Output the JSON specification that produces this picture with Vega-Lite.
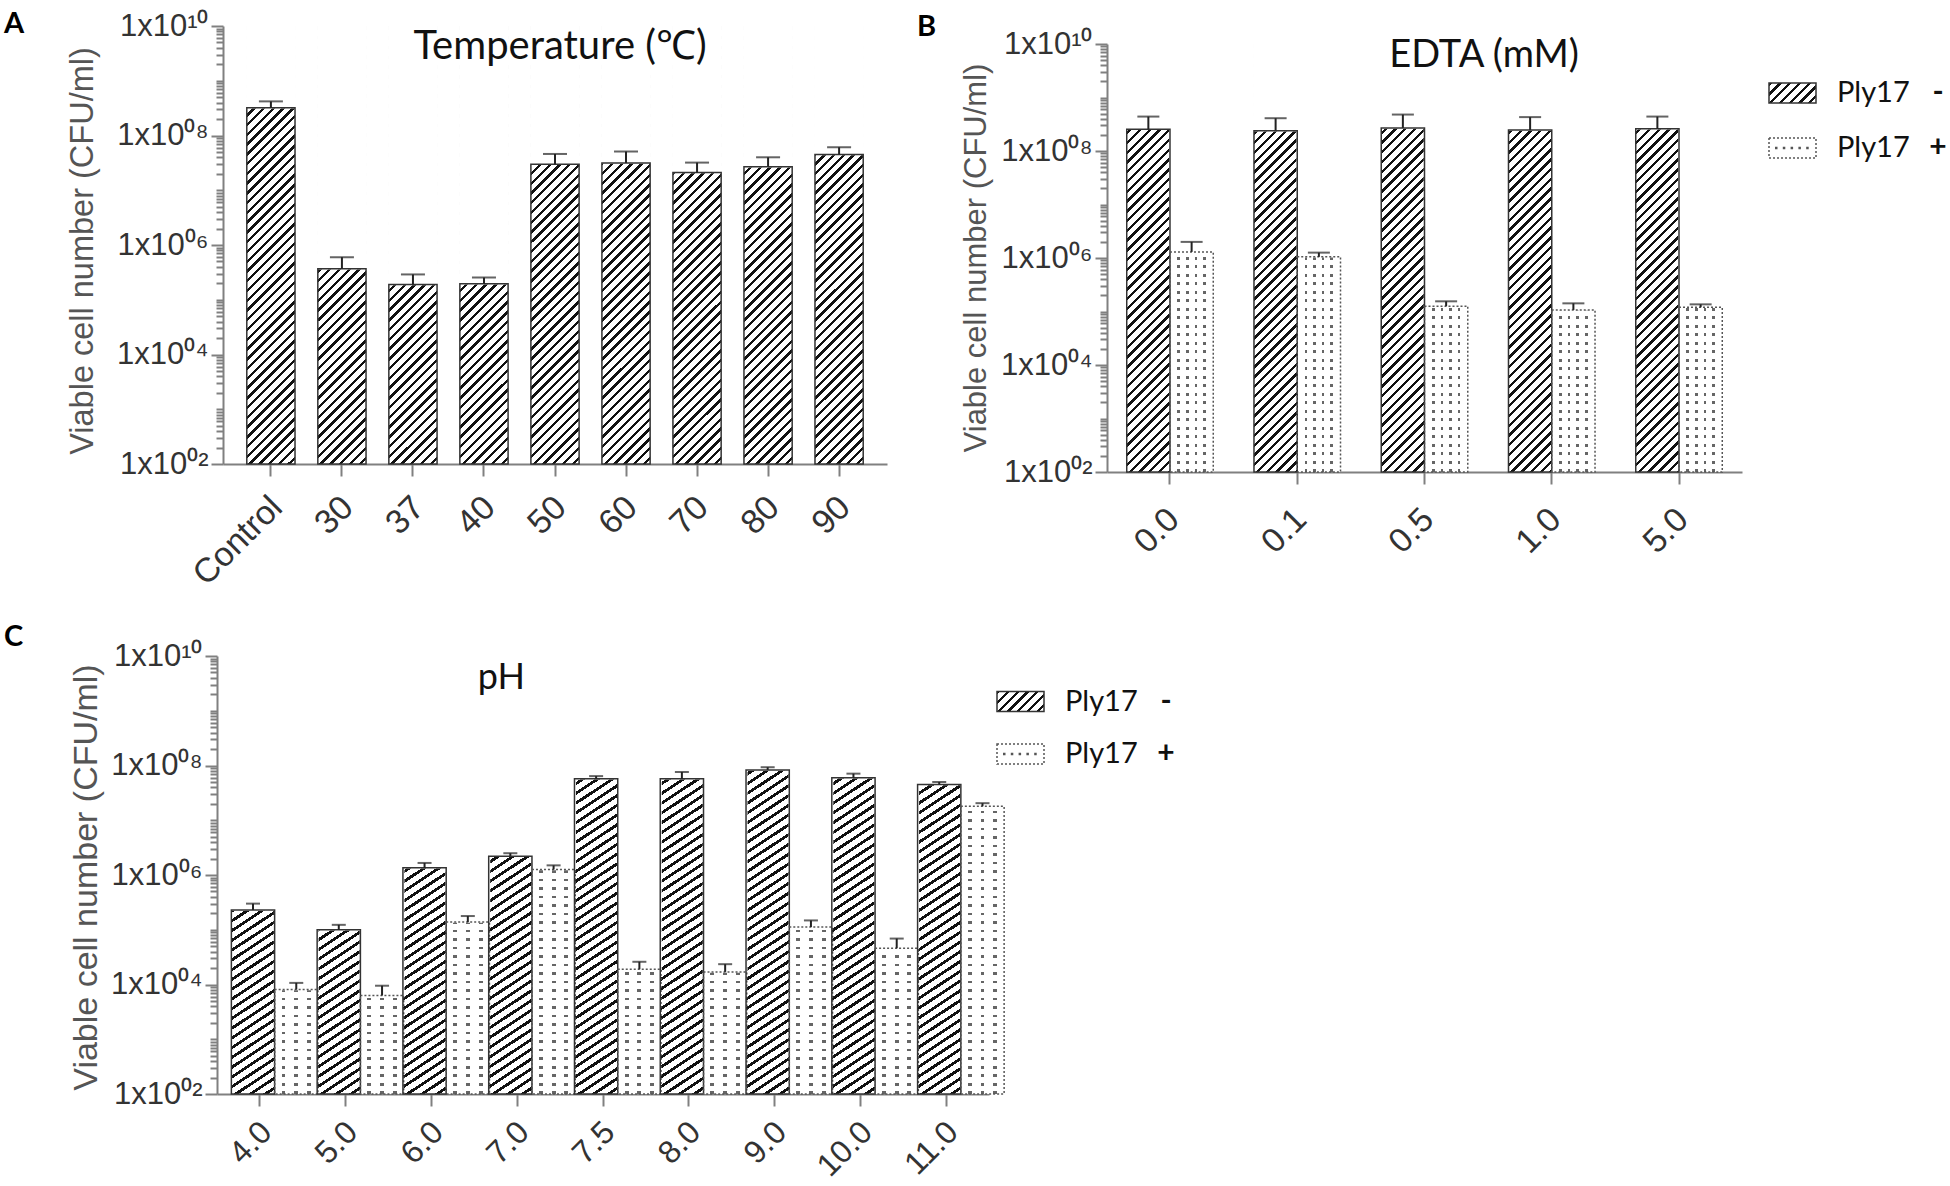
{
  "$schema": "https://vega.github.io/schema/vega-lite/v6.json",
  "background": "#ffffff",
  "padding": {"left": 4, "top": 10, "right": 0, "bottom": 0},
  "params": [
    {"name": "hatchStops", "value": [
      {"offset":0,"color":"#111"},{"offset":0.007,"color":"#111"},{"offset":0.007,"color":"#fff"},{"offset":0.02,"color":"#fff"},
      {"offset":0.02,"color":"#111"},{"offset":0.027,"color":"#111"},{"offset":0.027,"color":"#fff"},{"offset":0.04,"color":"#fff"},
      {"offset":0.04,"color":"#111"},{"offset":0.047,"color":"#111"},{"offset":0.047,"color":"#fff"},{"offset":0.06,"color":"#fff"},
      {"offset":0.06,"color":"#111"},{"offset":0.067,"color":"#111"},{"offset":0.067,"color":"#fff"},{"offset":0.08,"color":"#fff"},
      {"offset":0.08,"color":"#111"},{"offset":0.087,"color":"#111"},{"offset":0.087,"color":"#fff"},{"offset":0.1,"color":"#fff"},
      {"offset":0.1,"color":"#111"},{"offset":0.107,"color":"#111"},{"offset":0.107,"color":"#fff"},{"offset":0.12,"color":"#fff"},
      {"offset":0.12,"color":"#111"},{"offset":0.127,"color":"#111"},{"offset":0.127,"color":"#fff"},{"offset":0.14,"color":"#fff"},
      {"offset":0.14,"color":"#111"},{"offset":0.147,"color":"#111"},{"offset":0.147,"color":"#fff"},{"offset":0.16,"color":"#fff"},
      {"offset":0.16,"color":"#111"},{"offset":0.167,"color":"#111"},{"offset":0.167,"color":"#fff"},{"offset":0.18,"color":"#fff"},
      {"offset":0.18,"color":"#111"},{"offset":0.187,"color":"#111"},{"offset":0.187,"color":"#fff"},{"offset":0.2,"color":"#fff"},
      {"offset":0.2,"color":"#111"},{"offset":0.207,"color":"#111"},{"offset":0.207,"color":"#fff"},{"offset":0.22,"color":"#fff"},
      {"offset":0.22,"color":"#111"},{"offset":0.227,"color":"#111"},{"offset":0.227,"color":"#fff"},{"offset":0.24,"color":"#fff"},
      {"offset":0.24,"color":"#111"},{"offset":0.247,"color":"#111"},{"offset":0.247,"color":"#fff"},{"offset":0.26,"color":"#fff"},
      {"offset":0.26,"color":"#111"},{"offset":0.267,"color":"#111"},{"offset":0.267,"color":"#fff"},{"offset":0.28,"color":"#fff"},
      {"offset":0.28,"color":"#111"},{"offset":0.287,"color":"#111"},{"offset":0.287,"color":"#fff"},{"offset":0.3,"color":"#fff"},
      {"offset":0.3,"color":"#111"},{"offset":0.307,"color":"#111"},{"offset":0.307,"color":"#fff"},{"offset":0.32,"color":"#fff"},
      {"offset":0.32,"color":"#111"},{"offset":0.327,"color":"#111"},{"offset":0.327,"color":"#fff"},{"offset":0.34,"color":"#fff"},
      {"offset":0.34,"color":"#111"},{"offset":0.347,"color":"#111"},{"offset":0.347,"color":"#fff"},{"offset":0.36,"color":"#fff"},
      {"offset":0.36,"color":"#111"},{"offset":0.367,"color":"#111"},{"offset":0.367,"color":"#fff"},{"offset":0.38,"color":"#fff"},
      {"offset":0.38,"color":"#111"},{"offset":0.387,"color":"#111"},{"offset":0.387,"color":"#fff"},{"offset":0.4,"color":"#fff"},
      {"offset":0.4,"color":"#111"},{"offset":0.407,"color":"#111"},{"offset":0.407,"color":"#fff"},{"offset":0.42,"color":"#fff"},
      {"offset":0.42,"color":"#111"},{"offset":0.427,"color":"#111"},{"offset":0.427,"color":"#fff"},{"offset":0.44,"color":"#fff"},
      {"offset":0.44,"color":"#111"},{"offset":0.447,"color":"#111"},{"offset":0.447,"color":"#fff"},{"offset":0.46,"color":"#fff"},
      {"offset":0.46,"color":"#111"},{"offset":0.467,"color":"#111"},{"offset":0.467,"color":"#fff"},{"offset":0.48,"color":"#fff"},
      {"offset":0.48,"color":"#111"},{"offset":0.487,"color":"#111"},{"offset":0.487,"color":"#fff"},{"offset":0.5,"color":"#fff"},
      {"offset":0.5,"color":"#111"},{"offset":0.507,"color":"#111"},{"offset":0.507,"color":"#fff"},{"offset":0.52,"color":"#fff"},
      {"offset":0.52,"color":"#111"},{"offset":0.527,"color":"#111"},{"offset":0.527,"color":"#fff"},{"offset":0.54,"color":"#fff"},
      {"offset":0.54,"color":"#111"},{"offset":0.547,"color":"#111"},{"offset":0.547,"color":"#fff"},{"offset":0.56,"color":"#fff"},
      {"offset":0.56,"color":"#111"},{"offset":0.567,"color":"#111"},{"offset":0.567,"color":"#fff"},{"offset":0.58,"color":"#fff"},
      {"offset":0.58,"color":"#111"},{"offset":0.587,"color":"#111"},{"offset":0.587,"color":"#fff"},{"offset":0.6,"color":"#fff"},
      {"offset":0.6,"color":"#111"},{"offset":0.607,"color":"#111"},{"offset":0.607,"color":"#fff"},{"offset":0.62,"color":"#fff"},
      {"offset":0.62,"color":"#111"},{"offset":0.627,"color":"#111"},{"offset":0.627,"color":"#fff"},{"offset":0.64,"color":"#fff"},
      {"offset":0.64,"color":"#111"},{"offset":0.647,"color":"#111"},{"offset":0.647,"color":"#fff"},{"offset":0.66,"color":"#fff"},
      {"offset":0.66,"color":"#111"},{"offset":0.667,"color":"#111"},{"offset":0.667,"color":"#fff"},{"offset":0.68,"color":"#fff"},
      {"offset":0.68,"color":"#111"},{"offset":0.687,"color":"#111"},{"offset":0.687,"color":"#fff"},{"offset":0.7,"color":"#fff"},
      {"offset":0.7,"color":"#111"},{"offset":0.707,"color":"#111"},{"offset":0.707,"color":"#fff"},{"offset":0.72,"color":"#fff"},
      {"offset":0.72,"color":"#111"},{"offset":0.727,"color":"#111"},{"offset":0.727,"color":"#fff"},{"offset":0.74,"color":"#fff"},
      {"offset":0.74,"color":"#111"},{"offset":0.747,"color":"#111"},{"offset":0.747,"color":"#fff"},{"offset":0.76,"color":"#fff"},
      {"offset":0.76,"color":"#111"},{"offset":0.767,"color":"#111"},{"offset":0.767,"color":"#fff"},{"offset":0.78,"color":"#fff"},
      {"offset":0.78,"color":"#111"},{"offset":0.787,"color":"#111"},{"offset":0.787,"color":"#fff"},{"offset":0.8,"color":"#fff"},
      {"offset":0.8,"color":"#111"},{"offset":0.807,"color":"#111"},{"offset":0.807,"color":"#fff"},{"offset":0.82,"color":"#fff"},
      {"offset":0.82,"color":"#111"},{"offset":0.827,"color":"#111"},{"offset":0.827,"color":"#fff"},{"offset":0.84,"color":"#fff"},
      {"offset":0.84,"color":"#111"},{"offset":0.847,"color":"#111"},{"offset":0.847,"color":"#fff"},{"offset":0.86,"color":"#fff"},
      {"offset":0.86,"color":"#111"},{"offset":0.867,"color":"#111"},{"offset":0.867,"color":"#fff"},{"offset":0.88,"color":"#fff"},
      {"offset":0.88,"color":"#111"},{"offset":0.887,"color":"#111"},{"offset":0.887,"color":"#fff"},{"offset":0.9,"color":"#fff"},
      {"offset":0.9,"color":"#111"},{"offset":0.907,"color":"#111"},{"offset":0.907,"color":"#fff"},{"offset":0.92,"color":"#fff"},
      {"offset":0.92,"color":"#111"},{"offset":0.927,"color":"#111"},{"offset":0.927,"color":"#fff"},{"offset":0.94,"color":"#fff"},
      {"offset":0.94,"color":"#111"},{"offset":0.947,"color":"#111"},{"offset":0.947,"color":"#fff"},{"offset":0.96,"color":"#fff"},
      {"offset":0.96,"color":"#111"},{"offset":0.967,"color":"#111"},{"offset":0.967,"color":"#fff"},{"offset":0.98,"color":"#fff"},
      {"offset":0.98,"color":"#111"},{"offset":0.987,"color":"#111"},{"offset":0.987,"color":"#fff"},{"offset":1,"color":"#fff"}
    ]},
    {"name": "dotRowStops", "value": [
      {"offset":0,"color":"rgba(255,255,255,0)"},{"offset":0.0061,"color":"rgba(255,255,255,0)"},{"offset":0.0061,"color":"#fff"},{"offset":0.02,"color":"#fff"},
      {"offset":0.02,"color":"rgba(255,255,255,0)"},{"offset":0.0261,"color":"rgba(255,255,255,0)"},{"offset":0.0261,"color":"#fff"},{"offset":0.04,"color":"#fff"},
      {"offset":0.04,"color":"rgba(255,255,255,0)"},{"offset":0.0461,"color":"rgba(255,255,255,0)"},{"offset":0.0461,"color":"#fff"},{"offset":0.06,"color":"#fff"},
      {"offset":0.06,"color":"rgba(255,255,255,0)"},{"offset":0.0661,"color":"rgba(255,255,255,0)"},{"offset":0.0661,"color":"#fff"},{"offset":0.08,"color":"#fff"},
      {"offset":0.08,"color":"rgba(255,255,255,0)"},{"offset":0.0861,"color":"rgba(255,255,255,0)"},{"offset":0.0861,"color":"#fff"},{"offset":0.1,"color":"#fff"},
      {"offset":0.1,"color":"rgba(255,255,255,0)"},{"offset":0.1061,"color":"rgba(255,255,255,0)"},{"offset":0.1061,"color":"#fff"},{"offset":0.12,"color":"#fff"},
      {"offset":0.12,"color":"rgba(255,255,255,0)"},{"offset":0.1261,"color":"rgba(255,255,255,0)"},{"offset":0.1261,"color":"#fff"},{"offset":0.14,"color":"#fff"},
      {"offset":0.14,"color":"rgba(255,255,255,0)"},{"offset":0.1461,"color":"rgba(255,255,255,0)"},{"offset":0.1461,"color":"#fff"},{"offset":0.16,"color":"#fff"},
      {"offset":0.16,"color":"rgba(255,255,255,0)"},{"offset":0.1661,"color":"rgba(255,255,255,0)"},{"offset":0.1661,"color":"#fff"},{"offset":0.18,"color":"#fff"},
      {"offset":0.18,"color":"rgba(255,255,255,0)"},{"offset":0.1861,"color":"rgba(255,255,255,0)"},{"offset":0.1861,"color":"#fff"},{"offset":0.2,"color":"#fff"},
      {"offset":0.2,"color":"rgba(255,255,255,0)"},{"offset":0.2061,"color":"rgba(255,255,255,0)"},{"offset":0.2061,"color":"#fff"},{"offset":0.22,"color":"#fff"},
      {"offset":0.22,"color":"rgba(255,255,255,0)"},{"offset":0.2261,"color":"rgba(255,255,255,0)"},{"offset":0.2261,"color":"#fff"},{"offset":0.24,"color":"#fff"},
      {"offset":0.24,"color":"rgba(255,255,255,0)"},{"offset":0.2461,"color":"rgba(255,255,255,0)"},{"offset":0.2461,"color":"#fff"},{"offset":0.26,"color":"#fff"},
      {"offset":0.26,"color":"rgba(255,255,255,0)"},{"offset":0.2661,"color":"rgba(255,255,255,0)"},{"offset":0.2661,"color":"#fff"},{"offset":0.28,"color":"#fff"},
      {"offset":0.28,"color":"rgba(255,255,255,0)"},{"offset":0.2861,"color":"rgba(255,255,255,0)"},{"offset":0.2861,"color":"#fff"},{"offset":0.3,"color":"#fff"},
      {"offset":0.3,"color":"rgba(255,255,255,0)"},{"offset":0.3061,"color":"rgba(255,255,255,0)"},{"offset":0.3061,"color":"#fff"},{"offset":0.32,"color":"#fff"},
      {"offset":0.32,"color":"rgba(255,255,255,0)"},{"offset":0.3261,"color":"rgba(255,255,255,0)"},{"offset":0.3261,"color":"#fff"},{"offset":0.34,"color":"#fff"},
      {"offset":0.34,"color":"rgba(255,255,255,0)"},{"offset":0.3461,"color":"rgba(255,255,255,0)"},{"offset":0.3461,"color":"#fff"},{"offset":0.36,"color":"#fff"},
      {"offset":0.36,"color":"rgba(255,255,255,0)"},{"offset":0.3661,"color":"rgba(255,255,255,0)"},{"offset":0.3661,"color":"#fff"},{"offset":0.38,"color":"#fff"},
      {"offset":0.38,"color":"rgba(255,255,255,0)"},{"offset":0.3861,"color":"rgba(255,255,255,0)"},{"offset":0.3861,"color":"#fff"},{"offset":0.4,"color":"#fff"},
      {"offset":0.4,"color":"rgba(255,255,255,0)"},{"offset":0.4061,"color":"rgba(255,255,255,0)"},{"offset":0.4061,"color":"#fff"},{"offset":0.42,"color":"#fff"},
      {"offset":0.42,"color":"rgba(255,255,255,0)"},{"offset":0.4261,"color":"rgba(255,255,255,0)"},{"offset":0.4261,"color":"#fff"},{"offset":0.44,"color":"#fff"},
      {"offset":0.44,"color":"rgba(255,255,255,0)"},{"offset":0.4461,"color":"rgba(255,255,255,0)"},{"offset":0.4461,"color":"#fff"},{"offset":0.46,"color":"#fff"},
      {"offset":0.46,"color":"rgba(255,255,255,0)"},{"offset":0.4661,"color":"rgba(255,255,255,0)"},{"offset":0.4661,"color":"#fff"},{"offset":0.48,"color":"#fff"},
      {"offset":0.48,"color":"rgba(255,255,255,0)"},{"offset":0.4861,"color":"rgba(255,255,255,0)"},{"offset":0.4861,"color":"#fff"},{"offset":0.5,"color":"#fff"},
      {"offset":0.5,"color":"rgba(255,255,255,0)"},{"offset":0.5061,"color":"rgba(255,255,255,0)"},{"offset":0.5061,"color":"#fff"},{"offset":0.52,"color":"#fff"},
      {"offset":0.52,"color":"rgba(255,255,255,0)"},{"offset":0.5261,"color":"rgba(255,255,255,0)"},{"offset":0.5261,"color":"#fff"},{"offset":0.54,"color":"#fff"},
      {"offset":0.54,"color":"rgba(255,255,255,0)"},{"offset":0.5461,"color":"rgba(255,255,255,0)"},{"offset":0.5461,"color":"#fff"},{"offset":0.56,"color":"#fff"},
      {"offset":0.56,"color":"rgba(255,255,255,0)"},{"offset":0.5661,"color":"rgba(255,255,255,0)"},{"offset":0.5661,"color":"#fff"},{"offset":0.58,"color":"#fff"},
      {"offset":0.58,"color":"rgba(255,255,255,0)"},{"offset":0.5861,"color":"rgba(255,255,255,0)"},{"offset":0.5861,"color":"#fff"},{"offset":0.6,"color":"#fff"},
      {"offset":0.6,"color":"rgba(255,255,255,0)"},{"offset":0.6061,"color":"rgba(255,255,255,0)"},{"offset":0.6061,"color":"#fff"},{"offset":0.62,"color":"#fff"},
      {"offset":0.62,"color":"rgba(255,255,255,0)"},{"offset":0.6261,"color":"rgba(255,255,255,0)"},{"offset":0.6261,"color":"#fff"},{"offset":0.64,"color":"#fff"},
      {"offset":0.64,"color":"rgba(255,255,255,0)"},{"offset":0.6461,"color":"rgba(255,255,255,0)"},{"offset":0.6461,"color":"#fff"},{"offset":0.66,"color":"#fff"},
      {"offset":0.66,"color":"rgba(255,255,255,0)"},{"offset":0.6661,"color":"rgba(255,255,255,0)"},{"offset":0.6661,"color":"#fff"},{"offset":0.68,"color":"#fff"},
      {"offset":0.68,"color":"rgba(255,255,255,0)"},{"offset":0.6861,"color":"rgba(255,255,255,0)"},{"offset":0.6861,"color":"#fff"},{"offset":0.7,"color":"#fff"},
      {"offset":0.7,"color":"rgba(255,255,255,0)"},{"offset":0.7061,"color":"rgba(255,255,255,0)"},{"offset":0.7061,"color":"#fff"},{"offset":0.72,"color":"#fff"},
      {"offset":0.72,"color":"rgba(255,255,255,0)"},{"offset":0.7261,"color":"rgba(255,255,255,0)"},{"offset":0.7261,"color":"#fff"},{"offset":0.74,"color":"#fff"},
      {"offset":0.74,"color":"rgba(255,255,255,0)"},{"offset":0.7461,"color":"rgba(255,255,255,0)"},{"offset":0.7461,"color":"#fff"},{"offset":0.76,"color":"#fff"},
      {"offset":0.76,"color":"rgba(255,255,255,0)"},{"offset":0.7661,"color":"rgba(255,255,255,0)"},{"offset":0.7661,"color":"#fff"},{"offset":0.78,"color":"#fff"},
      {"offset":0.78,"color":"rgba(255,255,255,0)"},{"offset":0.7861,"color":"rgba(255,255,255,0)"},{"offset":0.7861,"color":"#fff"},{"offset":0.8,"color":"#fff"},
      {"offset":0.8,"color":"rgba(255,255,255,0)"},{"offset":0.8061,"color":"rgba(255,255,255,0)"},{"offset":0.8061,"color":"#fff"},{"offset":0.82,"color":"#fff"},
      {"offset":0.82,"color":"rgba(255,255,255,0)"},{"offset":0.8261,"color":"rgba(255,255,255,0)"},{"offset":0.8261,"color":"#fff"},{"offset":0.84,"color":"#fff"},
      {"offset":0.84,"color":"rgba(255,255,255,0)"},{"offset":0.8461,"color":"rgba(255,255,255,0)"},{"offset":0.8461,"color":"#fff"},{"offset":0.86,"color":"#fff"},
      {"offset":0.86,"color":"rgba(255,255,255,0)"},{"offset":0.8661,"color":"rgba(255,255,255,0)"},{"offset":0.8661,"color":"#fff"},{"offset":0.88,"color":"#fff"},
      {"offset":0.88,"color":"rgba(255,255,255,0)"},{"offset":0.8861,"color":"rgba(255,255,255,0)"},{"offset":0.8861,"color":"#fff"},{"offset":0.9,"color":"#fff"},
      {"offset":0.9,"color":"rgba(255,255,255,0)"},{"offset":0.9061,"color":"rgba(255,255,255,0)"},{"offset":0.9061,"color":"#fff"},{"offset":0.92,"color":"#fff"},
      {"offset":0.92,"color":"rgba(255,255,255,0)"},{"offset":0.9261,"color":"rgba(255,255,255,0)"},{"offset":0.9261,"color":"#fff"},{"offset":0.94,"color":"#fff"},
      {"offset":0.94,"color":"rgba(255,255,255,0)"},{"offset":0.9461,"color":"rgba(255,255,255,0)"},{"offset":0.9461,"color":"#fff"},{"offset":0.96,"color":"#fff"},
      {"offset":0.96,"color":"rgba(255,255,255,0)"},{"offset":0.9661,"color":"rgba(255,255,255,0)"},{"offset":0.9661,"color":"#fff"},{"offset":0.98,"color":"#fff"},
      {"offset":0.98,"color":"rgba(255,255,255,0)"},{"offset":0.9861,"color":"rgba(255,255,255,0)"},{"offset":0.9861,"color":"#fff"},{"offset":1,"color":"#fff"}
    ]},
    {"name": "dotColsB", "value": {"gradient": "linear", "x1": 0, "y1": 0, "x2": 1, "y2": 0, "stops": [
      {"offset":0,"color":"#fff"},{"offset":0.1722,"color":"#fff"},{"offset":0.1722,"color":"#666"},{"offset":0.2323,"color":"#666"},
      {"offset":0.2323,"color":"#fff"},{"offset":0.3709,"color":"#fff"},{"offset":0.3709,"color":"#666"},{"offset":0.431,"color":"#666"},
      {"offset":0.431,"color":"#fff"},{"offset":0.5697,"color":"#fff"},{"offset":0.5697,"color":"#666"},{"offset":0.6298,"color":"#666"},
      {"offset":0.6298,"color":"#fff"},{"offset":0.7684,"color":"#fff"},{"offset":0.7684,"color":"#666"},{"offset":0.8285,"color":"#666"},
      {"offset":0.8285,"color":"#fff"},{"offset":1,"color":"#fff"}
    ]}},
    {"name": "dotColsC", "value": {"gradient": "linear", "x1": 0, "y1": 0, "x2": 1, "y2": 0, "stops": [
      {"offset":0,"color":"#fff"},{"offset":0.1599,"color":"#fff"},{"offset":0.1599,"color":"#666"},{"offset":0.2511,"color":"#666"},
      {"offset":0.2511,"color":"#fff"},{"offset":0.4544,"color":"#fff"},{"offset":0.4544,"color":"#666"},{"offset":0.5456,"color":"#666"},
      {"offset":0.5456,"color":"#fff"},{"offset":0.7489,"color":"#fff"},{"offset":0.7489,"color":"#666"},{"offset":0.8401,"color":"#666"},
      {"offset":0.8401,"color":"#fff"},{"offset":1,"color":"#fff"}
    ]}},
    {"name": "hatchA", "expr": "{gradient: 'linear', x1: 0, y1: 0, x2: 0.12113, y2: 1.1007, stops: hatchStops}"},
    {"name": "hatchB", "expr": "{gradient: 'linear', x1: 0, y1: 0, x2: 0.11408, y2: 1.1284, stops: hatchStops}"},
    {"name": "hatchC", "expr": "{gradient: 'linear', x1: 0, y1: 0, x2: 0.07223, y2: 1.1093, stops: hatchStops}"},
    {"name": "hatchLeg", "expr": "{gradient: 'linear', x1: 0, y1: 0, x2: 8.789, y2: 3.74, stops: hatchStops}"},
    {"name": "dotRowsB", "expr": "{gradient: 'linear', x1: 0, y1: 1, x2: 0, y2: 0.00701, stops: dotRowStops}"},
    {"name": "dotRowsC", "expr": "{gradient: 'linear', x1: 0, y1: 1, x2: 0, y2: 0.02968, stops: dotRowStops}"}
  ],
  "bounds": "flush",
  "spacing": 630,
  "vconcat": [
    {
      "bounds": "flush",
      "spacing": 220,
      "hconcat": [
        {
          "width": 664,
          "height": 438,
          "title": {"text": "A", "dx": -219, "offset": -29},
          "data": {"values": [
            {"group": "Control", "mean": 3.2e8, "upper": 4.2e8},
            {"group": "30", "mean": 3.7e5, "upper": 6.0e5},
            {"group": "37", "mean": 1.9e5, "upper": 2.9e5},
            {"group": "40", "mean": 1.95e5, "upper": 2.55e5},
            {"group": "50", "mean": 3.0e7, "upper": 4.6e7},
            {"group": "60", "mean": 3.15e7, "upper": 5.1e7},
            {"group": "70", "mean": 2.1e7, "upper": 3.2e7},
            {"group": "80", "mean": 2.7e7, "upper": 4.0e7},
            {"group": "90", "mean": 4.5e7, "upper": 6.1e7}
          ]},
          "encoding": {
            "x": {
              "field": "group", "type": "nominal", "sort": null,
              "scale": {"domain": ["Control", "30", "37", "40", "50", "60", "70", "80", "90"], "paddingInner": 0.321, "paddingOuter": 0.335},
              "axis": {"title": null, "labelAngle": -45, "labelAlign": "right", "labelBaseline": "top", "labelPadding": 14, "labelOffset": -6, "tickSize": 12}
            }
          },
          "layer": [
            {
              "mark": {"type": "bar", "fill": {"expr": "hatchA"}},
              "encoding": {
                "y": {
                  "datum": 1e10, "type": "quantitative",
                  "scale": {"type": "log", "domain": [100, 1e10], "nice": false},
                  "axis": {
                    "title": "Viable cell number (CFU/ml)", "titleFontSize": 32.5, "titleX": -141, "titleY": 224.5,
                    "titleAngle": -90, "titleAlign": "center", "titleBaseline": "middle",
                    "values": [100,200,300,400,500,600,700,800,900,1000,2000,3000,4000,5000,6000,7000,8000,9000,10000,20000,30000,40000,50000,60000,70000,80000,90000,1e5,2e5,3e5,4e5,5e5,6e5,7e5,8e5,9e5,1e6,2e6,3e6,4e6,5e6,6e6,7e6,8e6,9e6,1e7,2e7,3e7,4e7,5e7,6e7,7e7,8e7,9e7,1e8,2e8,3e8,4e8,5e8,6e8,7e8,8e8,9e8,1e9,2e9,3e9,4e9,5e9,6e9,7e9,8e9,9e9,1e10],
                    "labelExpr": "datum.value == 1e10 ? '1x10¹⁰' : datum.value == 1e8 ? '1x10⁰⁸' : datum.value == 1e6 ? '1x10⁰⁶' : datum.value == 1e4 ? '1x10⁰⁴' : datum.value == 100 ? '1x10⁰²' : ''",
                    "labelPadding": 3,
                    "tickSize": {"condition": {"test": "datum.value == 100 || datum.value == 1e4 || datum.value == 1e6 || datum.value == 1e8 || datum.value == 1e10", "value": 12}, "value": 7}
                  }
                },
                "y2": {"datum": 100}
              }
            },
            {
              "mark": {"type": "bar", "fill": "#fff", "stroke": "#fff", "strokeWidth": 1.5},
              "encoding": {"y": {"field": "mean", "type": "quantitative"}, "y2": {"datum": 1e10}}
            },
            {
              "mark": {"type": "bar", "fill": "transparent", "stroke": "#333", "strokeWidth": 1.5},
              "encoding": {"y": {"field": "mean", "type": "quantitative"}, "y2": {"datum": 100}}
            },
            {
              "mark": {"type": "rule", "color": "#222", "strokeWidth": 2},
              "encoding": {"y": {"field": "mean", "type": "quantitative"}, "y2": {"field": "upper"}}
            },
            {
              "mark": {"type": "tick", "color": "#222", "thickness": 2, "size": 24},
              "encoding": {"y": {"field": "upper", "type": "quantitative"}}
            },
            {
              "data": {"values": [{"t": "Temperature  (℃)"}]},
              "mark": {"type": "text", "font": "Lato", "fontSize": 40, "color": "#111", "baseline": "middle", "dx": 5},
              "encoding": {"x": {"datum": "50"}, "y": {"datum": 4.1e9, "type": "quantitative"}, "text": {"field": "t"}}
            }
          ]
        },
        {
          "bounds": "flush",
          "spacing": 27,
          "hconcat": [
            {
              "width": 635,
              "height": 446,
              "title": {"text": "B", "dx": -190, "offset": -16},
              "data": {"values": [
                {"group": "0.0", "series": "Ply17 -", "mean": 2.55e8, "upper": 4.4e8},
                {"group": "0.0", "series": "Ply17 +", "mean": 1.3e6, "upper": 2.0e6},
                {"group": "0.1", "series": "Ply17 -", "mean": 2.4e8, "upper": 4.1e8},
                {"group": "0.1", "series": "Ply17 +", "mean": 1.05e6, "upper": 1.26e6},
                {"group": "0.5", "series": "Ply17 -", "mean": 2.7e8, "upper": 4.8e8},
                {"group": "0.5", "series": "Ply17 +", "mean": 1.26e5, "upper": 1.55e5},
                {"group": "1.0", "series": "Ply17 -", "mean": 2.46e8, "upper": 4.3e8},
                {"group": "1.0", "series": "Ply17 +", "mean": 1.07e5, "upper": 1.42e5},
                {"group": "5.0", "series": "Ply17 -", "mean": 2.6e8, "upper": 4.4e8},
                {"group": "5.0", "series": "Ply17 +", "mean": 1.2e5, "upper": 1.36e5}
              ]},
              "encoding": {
                "x": {
                  "field": "group", "type": "nominal", "sort": null,
                  "scale": {"domain": ["0.0", "0.1", "0.5", "1.0", "5.0"], "paddingInner": 0.32, "paddingOuter": 0.155},
                  "axis": {"title": null, "labelAngle": -45, "labelAlign": "right", "labelBaseline": "top", "labelPadding": 18, "labelOffset": -8, "tickSize": 12}
                },
                "xOffset": {"field": "series", "type": "nominal", "sort": null, "scale": {"domain": ["Ply17 -", "Ply17 +"], "paddingInner": 0, "paddingOuter": 0}}
              },
              "layer": [
                {
                  "mark": {"type": "bar", "fill": {"expr": "datum.series == 'Ply17 -' ? hatchB : dotColsB"}},
                  "encoding": {
                    "y": {
                      "datum": 1e10, "type": "quantitative",
                      "scale": {"type": "log", "domain": [100, 1e10], "range": [446, 18], "nice": false},
                      "axis": {
                        "title": "Viable cell number (CFU/ml)", "titleFontSize": 31, "titleX": -131, "titleY": 231.5,
                        "titleAngle": -90, "titleAlign": "center", "titleBaseline": "middle",
                        "values": [100,200,300,400,500,600,700,800,900,1000,2000,3000,4000,5000,6000,7000,8000,9000,10000,20000,30000,40000,50000,60000,70000,80000,90000,1e5,2e5,3e5,4e5,5e5,6e5,7e5,8e5,9e5,1e6,2e6,3e6,4e6,5e6,6e6,7e6,8e6,9e6,1e7,2e7,3e7,4e7,5e7,6e7,7e7,8e7,9e7,1e8,2e8,3e8,4e8,5e8,6e8,7e8,8e8,9e8,1e9,2e9,3e9,4e9,5e9,6e9,7e9,8e9,9e9,1e10],
                        "labelExpr": "datum.value == 1e10 ? '1x10¹⁰' : datum.value == 1e8 ? '1x10⁰⁸' : datum.value == 1e6 ? '1x10⁰⁶' : datum.value == 1e4 ? '1x10⁰⁴' : datum.value == 100 ? '1x10⁰²' : ''",
                        "labelPadding": 3,
                        "tickSize": {"condition": {"test": "datum.value == 100 || datum.value == 1e4 || datum.value == 1e6 || datum.value == 1e8 || datum.value == 1e10", "value": 12}, "value": 7}
                      }
                    },
                    "y2": {"datum": 100}
                  }
                },
                {
                  "transform": [{"filter": "datum.series == 'Ply17 +'"}],
                  "mark": {"type": "bar", "fill": {"expr": "dotRowsB"}},
                  "encoding": {"y": {"datum": 1e10, "type": "quantitative"}, "y2": {"datum": 100}}
                },
                {
                  "mark": {"type": "bar", "fill": "#fff", "stroke": "#fff", "strokeWidth": 1.5},
                  "encoding": {"y": {"field": "mean", "type": "quantitative"}, "y2": {"datum": 1e10}}
                },
                {
                  "mark": {"type": "bar", "fill": "transparent", "strokeWidth": 1.5},
                  "encoding": {
                    "y": {"field": "mean", "type": "quantitative"}, "y2": {"datum": 100},
                    "stroke": {"field": "series", "type": "nominal", "scale": {"domain": ["Ply17 -", "Ply17 +"], "range": ["#333", "#555"]}, "legend": null},
                    "strokeDash": {"field": "series", "type": "nominal", "scale": {"domain": ["Ply17 -", "Ply17 +"], "range": [[1, 0], [2, 2]]}, "legend": null}
                  }
                },
                {
                  "mark": {"type": "rule", "color": "#222", "strokeWidth": 2},
                  "encoding": {"y": {"field": "mean", "type": "quantitative"}, "y2": {"field": "upper"}}
                },
                {
                  "mark": {"type": "tick", "color": "#222", "thickness": 2, "size": 22},
                  "encoding": {"y": {"field": "upper", "type": "quantitative"}}
                },
                {
                  "data": {"values": [{"t": "EDTA (mM)"}]},
                  "mark": {"type": "text", "font": "Lato", "fontSize": 38, "color": "#111", "baseline": "middle", "dx": 38},
                  "encoding": {"x": {"datum": "0.5"}, "xOffset": {"datum": "Ply17 +"}, "y": {"datum": 6e9, "type": "quantitative"}, "text": {"field": "t"}}
                }
              ]
            },
            {
              "width": 175,
              "height": 189,
              "data": {"values": [
                {"series": "Ply17 -", "label": "Ply17", "sign": "-"},
                {"series": "Ply17 +", "label": "Ply17", "sign": "+"}
              ]},
              "encoding": {
                "y": {"field": "series", "type": "nominal", "sort": null, "axis": null, "scale": {"domain": ["Ply17 -", "Ply17 +"], "paddingInner": 0, "paddingOuter": 0.718}}
              },
              "layer": [
                {
                  "transform": [{"filter": "datum.series == 'Ply17 -'"}],
                  "mark": {"type": "bar", "orient": "horizontal", "height": {"band": 0.364}, "fill": {"expr": "hatchLeg"}, "stroke": "#333", "strokeWidth": 1.5},
                  "encoding": {"x": {"datum": 0, "type": "quantitative", "scale": {"domain": [0, 175], "nice": false}, "axis": null}, "x2": {"datum": 47}}
                },
                {
                  "transform": [{"filter": "datum.series == 'Ply17 +'"}],
                  "mark": {"type": "bar", "orient": "horizontal", "height": {"band": 0.364}, "fill": "#fff", "stroke": "#555", "strokeWidth": 1.5, "strokeDash": [2, 2]},
                  "encoding": {"x": {"datum": 0, "type": "quantitative"}, "x2": {"datum": 47}}
                },
                {
                  "transform": [{"filter": "datum.series == 'Ply17 +'"}],
                  "mark": {"type": "rule", "stroke": "#555", "strokeWidth": 2.5, "strokeDash": [2.5, 5.3]},
                  "encoding": {"x": {"datum": 6, "type": "quantitative"}, "x2": {"datum": 44}}
                },
                {
                  "mark": {"type": "text", "align": "left", "baseline": "middle", "font": "Lato", "fontSize": 29, "color": "#111"},
                  "encoding": {"x": {"datum": 68, "type": "quantitative"}, "text": {"field": "label"}}
                },
                {
                  "mark": {"type": "text", "align": "center", "baseline": "middle", "font": "Lato", "fontSize": 30, "fontWeight": "bold", "color": "#111"},
                  "encoding": {"x": {"datum": 169, "type": "quantitative"}, "text": {"field": "sign"}}
                }
              ]
            }
          ]
        }
      ]
    },
    {
      "bounds": "flush",
      "spacing": 8,
      "hconcat": [
        {
          "width": 766,
          "height": 438,
          "title": {"text": "C", "dx": -219, "offset": -12},
          "data": {"values": [
            {"group": "4.0", "series": "Ply17 -", "mean": 2.3e5, "upper": 3.0e5},
            {"group": "4.0", "series": "Ply17 +", "mean": 8.1e3, "upper": 1.07e4},
            {"group": "5.0", "series": "Ply17 -", "mean": 1.0e5, "upper": 1.23e5},
            {"group": "5.0", "series": "Ply17 +", "mean": 6.3e3, "upper": 9.5e3},
            {"group": "6.0", "series": "Ply17 -", "mean": 1.35e6, "upper": 1.66e6},
            {"group": "6.0", "series": "Ply17 +", "mean": 1.38e5, "upper": 1.78e5},
            {"group": "7.0", "series": "Ply17 -", "mean": 2.2e6, "upper": 2.5e6},
            {"group": "7.0", "series": "Ply17 +", "mean": 1.26e6, "upper": 1.5e6},
            {"group": "7.5", "series": "Ply17 -", "mean": 5.7e7, "upper": 6.4e7},
            {"group": "7.5", "series": "Ply17 +", "mean": 1.9e4, "upper": 2.6e4},
            {"group": "8.0", "series": "Ply17 -", "mean": 5.7e7, "upper": 7.6e7},
            {"group": "8.0", "series": "Ply17 +", "mean": 1.7e4, "upper": 2.35e4},
            {"group": "9.0", "series": "Ply17 -", "mean": 8.3e7, "upper": 9.3e7},
            {"group": "9.0", "series": "Ply17 +", "mean": 1.12e5, "upper": 1.48e5},
            {"group": "10.0", "series": "Ply17 -", "mean": 6.0e7, "upper": 7.1e7},
            {"group": "10.0", "series": "Ply17 +", "mean": 4.6e4, "upper": 6.9e4},
            {"group": "11.0", "series": "Ply17 -", "mean": 4.5e7, "upper": 5.0e7},
            {"group": "11.0", "series": "Ply17 +", "mean": 1.8e7, "upper": 2.05e7}
          ]},
          "encoding": {
            "x": {
              "field": "group", "type": "nominal", "sort": null,
              "scale": {"domain": ["4.0", "5.0", "6.0", "7.0", "7.5", "8.0", "9.0", "10.0", "11.0"], "range": [-6, 766], "paddingInner": 0.335, "paddingOuter": 0.1675},
              "axis": {"title": null, "labelAngle": -45, "labelAlign": "right", "labelBaseline": "top", "labelPadding": 10, "labelOffset": -4, "labelFontSize": 32, "tickSize": 12}
            },
            "xOffset": {"field": "series", "type": "nominal", "sort": null, "scale": {"domain": ["Ply17 -", "Ply17 +"], "paddingInner": 0, "paddingOuter": 0}}
          },
          "layer": [
            {
              "mark": {"type": "bar", "fill": {"expr": "datum.series == 'Ply17 -' ? hatchC : dotColsC"}},
              "encoding": {
                "y": {
                  "datum": 1e10, "type": "quantitative",
                  "scale": {"type": "log", "domain": [100, 1e10], "nice": false},
                  "axis": {
                    "offset": 6,
                    "title": "Viable cell number (CFU/ml)", "titleFontSize": 34, "titleX": -131, "titleY": 221,
                    "titleAngle": -90, "titleAlign": "center", "titleBaseline": "middle",
                    "values": [100,200,300,400,500,600,700,800,900,1000,2000,3000,4000,5000,6000,7000,8000,9000,10000,20000,30000,40000,50000,60000,70000,80000,90000,1e5,2e5,3e5,4e5,5e5,6e5,7e5,8e5,9e5,1e6,2e6,3e6,4e6,5e6,6e6,7e6,8e6,9e6,1e7,2e7,3e7,4e7,5e7,6e7,7e7,8e7,9e7,1e8,2e8,3e8,4e8,5e8,6e8,7e8,8e8,9e8,1e9,2e9,3e9,4e9,5e9,6e9,7e9,8e9,9e9,1e10],
                    "labelExpr": "datum.value == 1e10 ? '1x10¹⁰' : datum.value == 1e8 ? '1x10⁰⁸' : datum.value == 1e6 ? '1x10⁰⁶' : datum.value == 1e4 ? '1x10⁰⁴' : datum.value == 100 ? '1x10⁰²' : ''",
                    "labelPadding": 3,
                    "tickSize": {"condition": {"test": "datum.value == 100 || datum.value == 1e4 || datum.value == 1e6 || datum.value == 1e8 || datum.value == 1e10", "value": 12}, "value": 7}
                  }
                },
                "y2": {"datum": 100}
              }
            },
            {
              "transform": [{"filter": "datum.series == 'Ply17 +'"}],
              "mark": {"type": "bar", "fill": {"expr": "dotRowsC"}},
              "encoding": {"y": {"datum": 1e10, "type": "quantitative"}, "y2": {"datum": 100}}
            },
            {
              "mark": {"type": "bar", "fill": "#fff", "stroke": "#fff", "strokeWidth": 1.5},
              "encoding": {"y": {"field": "mean", "type": "quantitative"}, "y2": {"datum": 1e10}}
            },
            {
              "mark": {"type": "bar", "fill": "transparent", "strokeWidth": 1.5},
              "encoding": {
                "y": {"field": "mean", "type": "quantitative"}, "y2": {"datum": 100},
                "stroke": {"field": "series", "type": "nominal", "scale": {"domain": ["Ply17 -", "Ply17 +"], "range": ["#333", "#555"]}, "legend": null},
                "strokeDash": {"field": "series", "type": "nominal", "scale": {"domain": ["Ply17 -", "Ply17 +"], "range": [[1, 0], [2, 2]]}, "legend": null}
              }
            },
            {
              "mark": {"type": "rule", "color": "#222", "strokeWidth": 2},
              "encoding": {"y": {"field": "mean", "type": "quantitative"}, "y2": {"field": "upper"}}
            },
            {
              "mark": {"type": "tick", "color": "#222", "thickness": 2, "size": 14},
              "encoding": {"y": {"field": "upper", "type": "quantitative"}}
            },
            {
              "data": {"values": [{"t": "pH"}]},
              "mark": {"type": "text", "font": "Lato", "fontSize": 36, "color": "#111", "baseline": "middle", "dx": -9},
              "encoding": {"x": {"datum": "7.0"}, "xOffset": {"datum": "Ply17 -"}, "y": {"datum": 4.0e9, "type": "quantitative"}, "text": {"field": "t"}}
            }
          ]
        },
        {
          "width": 175,
          "height": 143.5,
          "data": {"values": [
            {"series": "Ply17 -", "label": "Ply17", "sign": "-"},
            {"series": "Ply17 +", "label": "Ply17", "sign": "+"}
          ]},
          "encoding": {
            "y": {"field": "series", "type": "nominal", "sort": null, "axis": null, "scale": {"domain": ["Ply17 -", "Ply17 +"], "paddingInner": 0, "paddingOuter": 0.367}}
          },
          "layer": [
            {
              "transform": [{"filter": "datum.series == 'Ply17 -'"}],
              "mark": {"type": "bar", "orient": "horizontal", "height": {"band": 0.381}, "fill": {"expr": "hatchLeg"}, "stroke": "#333", "strokeWidth": 1.5},
              "encoding": {"x": {"datum": 0, "type": "quantitative", "scale": {"domain": [0, 175], "nice": false}, "axis": null}, "x2": {"datum": 47}}
            },
            {
              "transform": [{"filter": "datum.series == 'Ply17 +'"}],
              "mark": {"type": "bar", "orient": "horizontal", "height": {"band": 0.381}, "fill": "#fff", "stroke": "#555", "strokeWidth": 1.5, "strokeDash": [2, 2]},
              "encoding": {"x": {"datum": 0, "type": "quantitative"}, "x2": {"datum": 47}}
            },
            {
              "transform": [{"filter": "datum.series == 'Ply17 +'"}],
              "mark": {"type": "rule", "stroke": "#555", "strokeWidth": 2.5, "strokeDash": [2.5, 5.3]},
              "encoding": {"x": {"datum": 6, "type": "quantitative"}, "x2": {"datum": 44}}
            },
            {
              "mark": {"type": "text", "align": "left", "baseline": "middle", "font": "Lato", "fontSize": 29, "color": "#111"},
              "encoding": {"x": {"datum": 68, "type": "quantitative"}, "text": {"field": "label"}}
            },
            {
              "mark": {"type": "text", "align": "center", "baseline": "middle", "font": "Lato", "fontSize": 30, "fontWeight": "bold", "color": "#111"},
              "encoding": {"x": {"datum": 169, "type": "quantitative"}, "text": {"field": "sign"}}
            }
          ]
        }
      ]
    }
  ],
  "config": {
    "view": {"stroke": null},
    "font": "Liberation Sans",
    "axis": {
      "grid": false, "domainColor": "#808080", "domainWidth": 2, "tickColor": "#808080", "tickWidth": 2,
      "labelFont": "Liberation Sans", "labelColor": "#333", "labelFontSize": 34,
      "titleFont": "Liberation Sans", "titleColor": "#555", "titleFontWeight": "normal",
      "zindex": 1, "labelOverlap": false
    },
    "axisY": {"labelFontSize": 31},
    "title": {"font": "Lato", "fontWeight": "bold", "fontSize": 29, "color": "#000", "anchor": "start", "frame": "group"}
  }
}
